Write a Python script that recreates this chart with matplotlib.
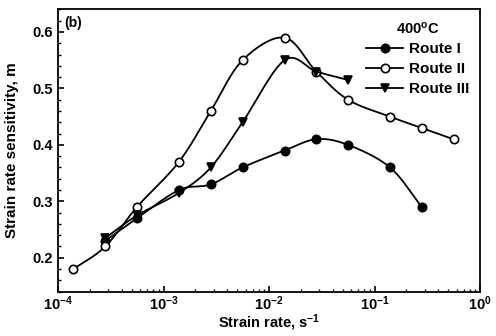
import numpy as np
from matplotlib import pyplot as plt
from matplotlib.lines import Line2D
from matplotlib.ticker import LogLocator, MultipleLocator, NullFormatter

plt.rcParams['font.family'] = ['Liberation Sans', 'DejaVu Sans']
plt.rcParams['font.weight'] = 'bold'
plt.rcParams['mathtext.default'] = 'regular'

# data
rate_1 = [2.8e-4, 5.6e-4, 1.4e-3, 2.8e-3, 5.6e-3, 1.4e-2, 2.8e-2, 5.6e-2, 0.14, 0.28]
m_1 = [0.23, 0.27, 0.32, 0.33, 0.36, 0.39, 0.41, 0.40, 0.36, 0.29]

rate_2 = [1.4e-4, 2.8e-4, 5.6e-4, 1.4e-3, 2.8e-3, 5.6e-3, 1.4e-2, 2.8e-2, 5.6e-2, 0.14, 0.28, 0.56]
m_2 = [0.18, 0.22, 0.29, 0.37, 0.46, 0.55, 0.59, 0.53, 0.48, 0.45, 0.43, 0.41]

rate_3 = [2.8e-4, 5.6e-4, 1.4e-3, 2.8e-3, 5.6e-3, 1.4e-2, 2.8e-2, 5.6e-2]
m_3 = [0.235, 0.275, 0.315, 0.36, 0.44, 0.55, 0.53, 0.515]

labels = ['Route I', 'Route II', 'Route III']


def smooth(x, y, n=20):
    # catmull-rom curve through the points (in log x), only for drawing the line
    lx = np.log10(x)
    y = np.asarray(y, float)
    px = np.concatenate([[2 * lx[0] - lx[1]], lx, [2 * lx[-1] - lx[-2]]])
    py = np.concatenate([[2 * y[0] - y[1]], y, [2 * y[-1] - y[-2]]])
    xs, ys = [], []
    t = np.linspace(0, 1, n, endpoint=False)
    for i in range(1, len(px) - 2):
        for arr, out in ((px, xs), (py, ys)):
            p0, p1, p2, p3 = arr[i - 1:i + 3]
            out.extend(0.5 * (2 * p1 + (-p0 + p2) * t + (2 * p0 - 5 * p1 + 4 * p2 - p3) * t ** 2
                              + (-p0 + 3 * p1 - 3 * p2 + p3) * t ** 3))
    xs.append(lx[-1])
    ys.append(y[-1])
    return 10 ** np.array(xs), np.array(ys)


fig = plt.figure(figsize=(4.96, 3.36), dpi=100)
ax = fig.add_axes([0.117, 0.132, 0.851, 0.84])

styles = [dict(marker='o', mfc='black'), dict(marker='o', mfc='white'), dict(marker='v', mfc='black')]
for (x, y), st in zip([(rate_1, m_1), (rate_2, m_2), (rate_3, m_3)], styles):
    sx, sy = smooth(x, y)
    ax.plot(sx, sy, color='black', lw=1.3)
    ax.plot(x, y, ls='none', marker=st['marker'], mfc=st['mfc'], mec='black', mew=1.2, ms=6)

ax.set_xscale('log')
ax.set_xlim(1e-4, 1)
ax.set_ylim(0.14, 0.64)
ax.yaxis.set_major_locator(MultipleLocator(0.1))
ax.yaxis.set_minor_locator(MultipleLocator(0.02))
ax.xaxis.set_minor_locator(LogLocator(base=10, subs=np.arange(2, 10)))
ax.xaxis.set_minor_formatter(NullFormatter())
ax.tick_params(which='both', direction='in', top=False, right=False, labelsize=10.5)
ax.tick_params(axis='x', pad=2)
ax.tick_params(which='major', length=4, width=1.2)
ax.tick_params(which='minor', length=2.5, width=1)
for sp in ax.spines.values():
    sp.set_linewidth(1.3)

ax.set_xlabel('Strain rate, s$^{-1}$', fontsize=10.5, fontweight='bold')
ax.xaxis.set_label_coords(0.5, -0.074)
ax.set_ylabel('Strain rate sensitivity, m', fontsize=11, fontweight='bold')
ax.yaxis.set_label_coords(-0.092, 0.5)
ax.text(0.015, 0.975, '(b)', transform=ax.transAxes, ha='left', va='top', fontsize=10, fontweight='bold')

handles = [Line2D([], [], color='black', lw=1.3, marker=st['marker'], mfc=st['mfc'], mec='black', mew=1.2, ms=6)
           for st in styles]
leg = ax.legend(handles, labels, title='400$^{o}$C', loc='upper right', frameon=False, fontsize=11,
                handlelength=2.4, handletextpad=0.4, labelspacing=0.4, borderaxespad=0.2,
                borderpad=0.5)
leg.get_title().set_fontweight('bold')
leg.get_title().set_fontsize(10.5)

plt.savefig('out.png', dpi=100)
